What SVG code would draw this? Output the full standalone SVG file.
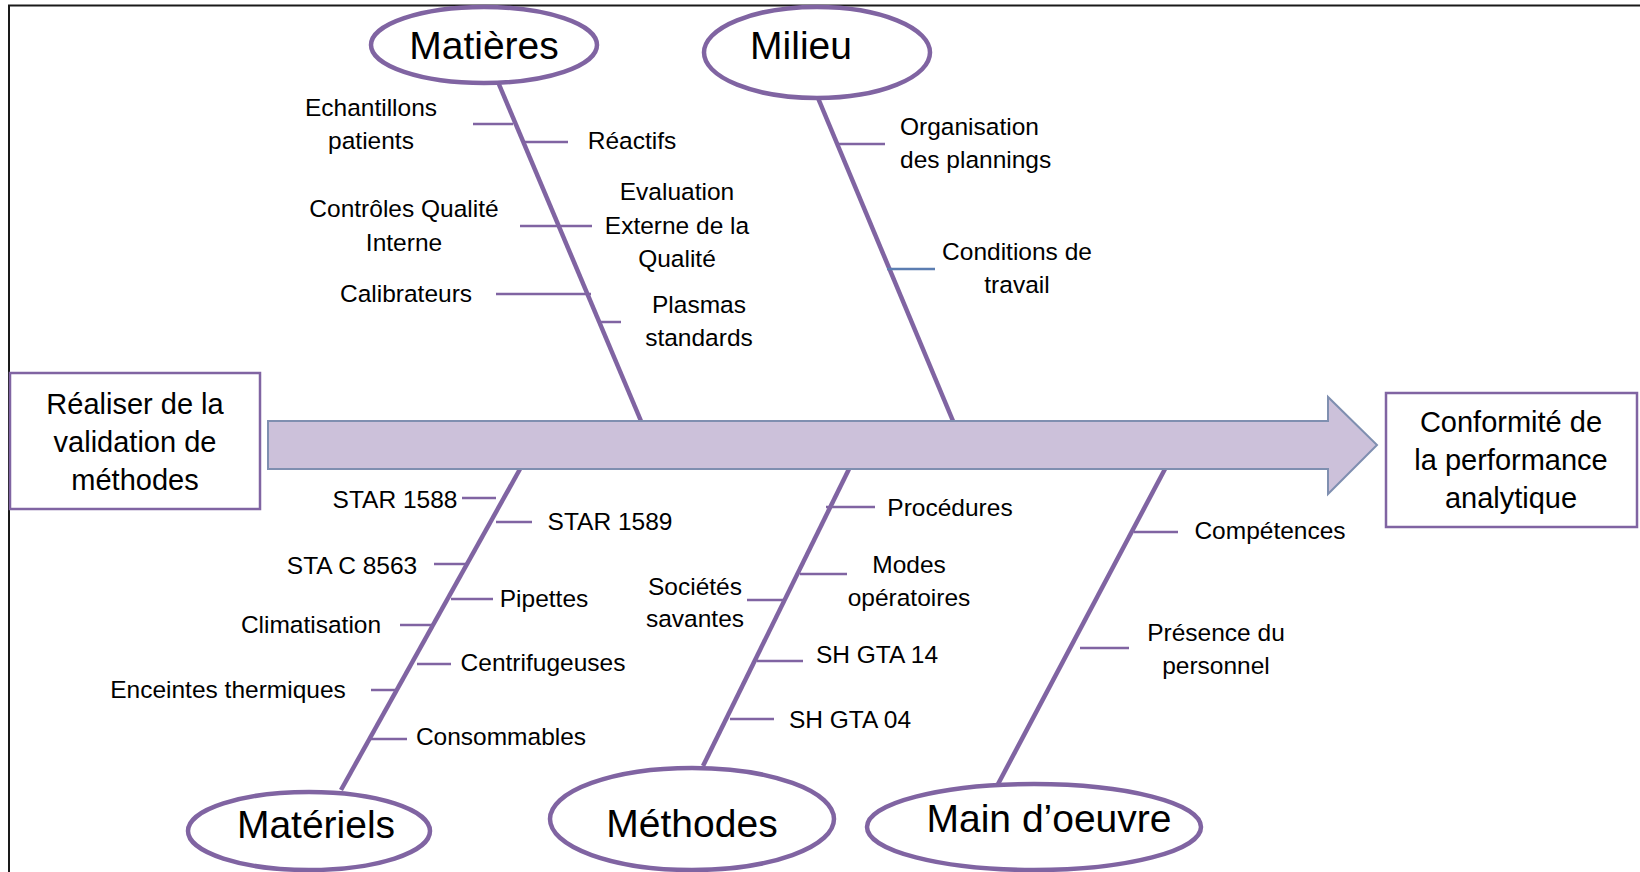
<svg xmlns="http://www.w3.org/2000/svg" width="1640" height="872" viewBox="0 0 1640 872">
<style>
text{font-family:"Liberation Sans",Arial,sans-serif;fill:#000}
.big{font-size:39px;text-anchor:middle}
.lbl{font-size:24.5px}
.mid{text-anchor:middle}
.box{font-size:29px;text-anchor:middle}
.ell{fill:#fff;stroke:#8064A2;stroke-width:4.5}
.bone{stroke:#8064A2;stroke-width:4.5;fill:none;stroke-linecap:butt}
.tick{stroke:#8064A2;stroke-width:2.5;fill:none}
.rbox{fill:#fff;stroke:#8064A2;stroke-width:2.5}
</style>
<rect x="0" y="0" width="1640" height="872" fill="#fff"/>
<rect x="9" y="5.5" width="1700" height="900" fill="none" stroke="#1a1a1a" stroke-width="2"/>

<g id="connectors">
<line class="bone" x1="498" y1="82" x2="641" y2="421"/>
<line class="bone" x1="818" y1="98" x2="953" y2="421"/>
<line class="bone" x1="520" y1="469" x2="341" y2="790"/>
<line class="bone" x1="849" y1="469" x2="703" y2="766"/>
<line class="bone" x1="1165" y1="469" x2="997" y2="786"/>
<!-- Matières ticks -->
<line class="tick" x1="473" y1="124" x2="513" y2="124"/>
<line class="tick" x1="523" y1="142" x2="568" y2="142"/>
<line class="tick" x1="520" y1="226" x2="592" y2="226"/>
<line class="tick" x1="496" y1="294" x2="591" y2="294"/>
<line class="tick" x1="600" y1="322" x2="621" y2="322"/>
<!-- Milieu ticks -->
<line class="tick" x1="838" y1="144" x2="885" y2="144"/>
<line class="tick" x1="887" y1="269" x2="935" y2="269" style="stroke:#5B7DB1"/>
<!-- Matériels ticks -->
<line class="tick" x1="462" y1="498" x2="496" y2="498"/>
<line class="tick" x1="496" y1="522" x2="532" y2="522"/>
<line class="tick" x1="434" y1="564" x2="466" y2="564"/>
<line class="tick" x1="451" y1="599" x2="493" y2="599"/>
<line class="tick" x1="400" y1="625" x2="432" y2="625"/>
<line class="tick" x1="417" y1="664" x2="451" y2="664"/>
<line class="tick" x1="371" y1="690" x2="395" y2="690"/>
<line class="tick" x1="371" y1="739" x2="407" y2="739"/>
<!-- Méthodes ticks -->
<line class="tick" x1="826" y1="507" x2="875" y2="507"/>
<line class="tick" x1="800" y1="574" x2="847" y2="574"/>
<line class="tick" x1="747" y1="600" x2="785" y2="600"/>
<line class="tick" x1="757" y1="661" x2="803" y2="661"/>
<line class="tick" x1="730" y1="719" x2="774" y2="719"/>
<!-- Main d'oeuvre ticks -->
<line class="tick" x1="1134" y1="532" x2="1178" y2="532"/>
<line class="tick" x1="1080" y1="648" x2="1129" y2="648"/>
</g>

<g id="spine">
<path d="M268,421 H1328 V397 L1377,445 L1328,494 V469 H268 Z" fill="#CCC1DA" stroke="#7F8FB0" stroke-width="2"/>
</g>

<g id="node-source">
<rect class="rbox" x="10" y="373" width="250" height="136"/>
<text class="box" x="135" y="414">Réaliser de la</text>
<text class="box" x="135" y="452">validation de</text>
<text class="box" x="135" y="490">méthodes</text>
</g>

<g id="node-result">
<rect class="rbox" x="1386" y="393" width="251" height="134"/>
<text class="box" x="1511" y="432">Conformité de</text>
<text class="box" x="1511" y="470">la performance</text>
<text class="box" x="1511" y="508">analytique</text>
</g>

<g id="node-matieres">
<ellipse class="ell" cx="484" cy="45" rx="113" ry="38"/>
<text class="big" x="484" y="59">Matières</text>
</g>
<g id="node-milieu">
<ellipse class="ell" cx="817" cy="52.5" rx="113" ry="45.5"/>
<text class="big" x="801" y="59">Milieu</text>
</g>
<g id="node-materiels">
<ellipse class="ell" cx="309" cy="831" rx="121" ry="39"/>
<text class="big" x="316" y="838">Matériels</text>
</g>
<g id="node-methodes">
<ellipse class="ell" cx="692" cy="819" rx="142" ry="51"/>
<text class="big" x="692" y="837">Méthodes</text>
</g>
<g id="node-main">
<ellipse class="ell" cx="1034" cy="827" rx="167" ry="43"/>
<text class="big" x="1049" y="832">Main d’oeuvre</text>
</g>

<g id="labels-matieres">
<text class="lbl mid" x="371" y="116">Echantillons</text>
<text class="lbl mid" x="371" y="149">patients</text>
<text class="lbl mid" x="632" y="149">Réactifs</text>
<text class="lbl mid" x="404" y="217">Contrôles Qualité</text>
<text class="lbl mid" x="404" y="251">Interne</text>
<text class="lbl mid" x="677" y="200">Evaluation</text>
<text class="lbl mid" x="677" y="234">Externe de la</text>
<text class="lbl mid" x="677" y="267">Qualité</text>
<text class="lbl mid" x="406" y="302">Calibrateurs</text>
<text class="lbl mid" x="699" y="313">Plasmas</text>
<text class="lbl mid" x="699" y="346">standards</text>
</g>
<g id="labels-milieu">
<text class="lbl" x="900" y="135">Organisation</text>
<text class="lbl" x="900" y="168">des plannings</text>
<text class="lbl mid" x="1017" y="260">Conditions de</text>
<text class="lbl mid" x="1017" y="293">travail</text>
</g>
<g id="labels-materiels">
<text class="lbl mid" x="395" y="508">STAR 1588</text>
<text class="lbl mid" x="610" y="530">STAR 1589</text>
<text class="lbl mid" x="352" y="574">STA C 8563</text>
<text class="lbl mid" x="544" y="607">Pipettes</text>
<text class="lbl mid" x="311" y="633">Climatisation</text>
<text class="lbl mid" x="543" y="671">Centrifugeuses</text>
<text class="lbl mid" x="228" y="698">Enceintes thermiques</text>
<text class="lbl mid" x="501" y="745">Consommables</text>
</g>
<g id="labels-methodes">
<text class="lbl mid" x="950" y="516">Procédures</text>
<text class="lbl mid" x="909" y="573">Modes</text>
<text class="lbl mid" x="909" y="606">opératoires</text>
<text class="lbl mid" x="695" y="595">Sociétés</text>
<text class="lbl mid" x="695" y="627">savantes</text>
<text class="lbl mid" x="877" y="663">SH GTA 14</text>
<text class="lbl mid" x="850" y="728">SH GTA 04</text>
</g>
<g id="labels-main">
<text class="lbl mid" x="1270" y="539">Compétences</text>
<text class="lbl mid" x="1216" y="641">Présence du</text>
<text class="lbl mid" x="1216" y="674">personnel</text>
</g>
</svg>
